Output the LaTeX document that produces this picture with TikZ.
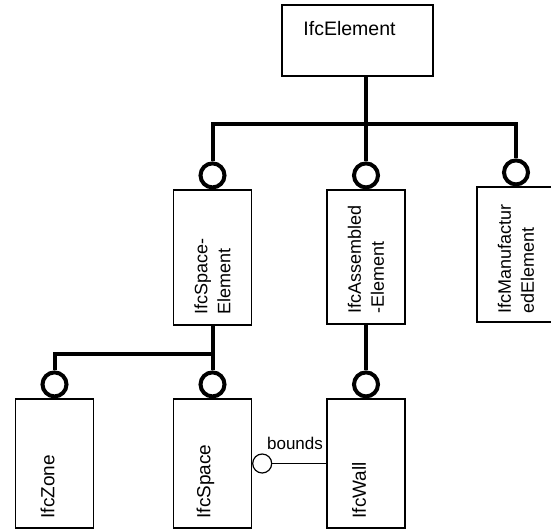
\documentclass[tikz,border=0pt]{standalone}
\usepackage{fontspec}
\setmainfont{Liberation Sans}
\usepackage{tikz}
\usetikzlibrary{positioning}
\newcommand{\xxA}{54.5}
\newcommand{\xxB}{212.5}
\newcommand{\xxC}{366}
\newcommand{\xxD}{516}

\begin{document}
\begin{tikzpicture}[x=1pt, y=-1pt,
	classbox/.style = {draw, line width=1.2pt, minimum width=78pt, inner sep=0pt},
	ball/.style = {draw, circle, line width=4pt, minimum size=24pt, inner sep=0pt},
	knob/.style = {draw, circle, line width=1.2pt, minimum size=19pt, inner sep=0pt},
	bar/.style = {line width=4pt},
	boxtext/.style = {font=\fontsize{19}{23}\selectfont, rotate=90, anchor=west, align=left, inner sep=0pt}]

		\useasboundingbox (0,0) rectangle (551,530);
		% IfcElement
		\node[classbox, minimum width=151pt, minimum height=71pt] (elem) at (357.5,40.5) {};
		\node[font=\fontsize{19.5}{23}\selectfont, inner sep=0pt] (elem-t) at ([xshift=-8pt, yshift=12pt]elem.center) {IfcElement};
		% second row
		\node[classbox, minimum height=135pt] (spel) at (\xxB,257.5) {};
		\node[classbox, minimum height=134pt] (asel) at (\xxC,257) {};
		\node[classbox, minimum height=135pt] (mfel) at (\xxD,254.5) {};
		\node[ball, above=0pt of spel] (spel-c) {};
		\node[ball, above=0pt of asel] (asel-c) {};
		\node[ball, above=0pt of mfel] (mfel-c) {};
		\node[boxtext, font=\fontsize{18}{23}\selectfont] (spel-t) at ([yshift=11pt]spel.south) {IfcSpace-\\Element};
		\node[boxtext, font=\fontsize{18}{23}\selectfont] (asel-t) at ([yshift=11pt]asel.south) {IfcAssembled\\-Element};
		\node[boxtext, font=\fontsize{18}{23}\selectfont] (mfel-t) at ([yshift=9pt]mfel.south) {IfcManufactur\\edElement};
		% third row
		\node[classbox, minimum height=129pt] (zone) at (\xxA,463.5) {};
		\node[classbox, minimum height=129pt] (space) at (\xxB,463.5) {};
		\node[classbox, minimum height=129pt] (wall) at (\xxC,463.5) {};
		\node[ball, above=0pt of zone] (zone-c) {};
		\node[ball, above=0pt of space] (space-c) {};
		\node[ball, above=0pt of wall] (wall-c) {};
		\node[boxtext] (zone-t) at ([xshift=-7pt, yshift=10pt]zone.south) {IfcZone};
		\node[boxtext] (space-t) at ([xshift=-7pt, yshift=10pt]space.south) {IfcSpace};
		\node[boxtext] (wall-t) at ([xshift=-7pt, yshift=10pt]wall.south) {IfcWall};
		% tree
		\coordinate (hub) at (\xxC,124);
		\coordinate (fork) at (\xxB,354);
		\draw[bar] (elem.south -| hub) -- (asel-c.north);
		\draw[bar] (spel-c.north) |- (hub) -| (mfel-c.north);
		\draw[bar] (spel.south) -- (space-c.north);
		\draw[bar] (fork) -| (zone-c.north);
		\draw[bar] (asel.south) -- (wall-c.north);
		% bounds
		\node[knob, right=0pt of space] (bnd) {};
		\draw[line width=1.2pt] (bnd) -- node[pos=0.42, above=13pt, inner sep=0pt, font=\fontsize{17}{20}\selectfont] (bnd-t) {bounds} (wall.west |- bnd);
	\end{tikzpicture}
\end{document}
